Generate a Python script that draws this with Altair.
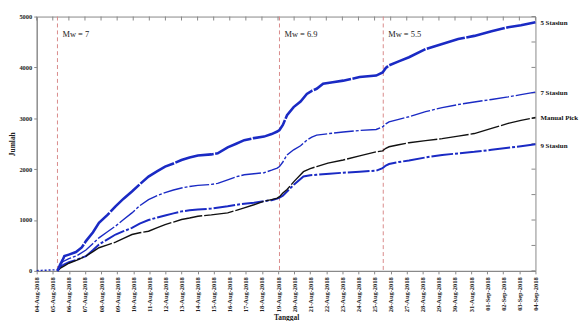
import altair as alt
import pandas as pd

# ---- data (days since 04-Aug-2018 00:00) ----
tick_labels = ["04-Aug-2018", "05-Aug-2018", "06-Aug-2018", "07-Aug-2018", "08-Aug-2018",
               "09-Aug-2018", "10-Aug-2018", "11-Aug-2018", "12-Aug-2018", "13-Aug-2018",
               "14-Aug-2018", "15-Aug-2018", "16-Aug-2018", "17-Aug-2018", "18-Aug-2018",
               "19-Aug-2018", "20-Aug-2018", "21-Aug-2018", "22-Aug-2018", "23-Aug-2018",
               "24-Aug-2018", "25-Aug-2018", "26-Aug-2018", "27-Aug-2018", "28-Aug-2018",
               "29-Aug-2018", "30-Aug-2018", "31-Aug-2018", "01-Sep-2018", "02-Sep-2018",
               "03-Sep-2018", "04-Sep-2018"]
y_ticks = [0, 500, 1000, 1500, 2000, 2500, 3000, 3500, 4000, 4500, 5000]

pre_day = [0.0, 0.3, 0.6, 0.9, 1.1, 1.25]
pre_val = [5, 10, 14, 18, 22, 28]

s5_day = [1.29, 1.45, 1.62, 1.72, 2.0, 2.44, 2.8, 3.06, 3.5, 3.87, 4.4, 4.9, 5.4, 5.92, 6.4, 6.95,
          7.5, 7.98, 8.5, 9.0, 9.5, 10.02, 10.85, 11.25, 11.87, 12.4, 12.9, 13.5, 14.13, 14.6,
          14.95, 15.09, 15.3, 15.56, 15.97, 16.4, 16.79, 17.1, 17.4, 17.8, 18.4, 19.05, 20.07,
          21.1, 21.5, 21.7, 21.9, 22.5, 23.14, 24.17, 25.2, 26.2, 27.2, 28.27, 29.3, 30.1, 31.0]
s5_val = [0, 120, 220, 290, 320, 370, 460, 585, 760, 944, 1100, 1270, 1420, 1560, 1700, 1855,
          1960, 2050, 2110, 2180, 2230, 2270, 2290, 2310, 2430, 2500, 2570, 2610, 2640, 2690,
          2740, 2770, 2870, 3060, 3220, 3330, 3480, 3540, 3580, 3680, 3710, 3740, 3810,
          3840, 3900, 3990, 4040, 4120, 4200, 4360, 4460, 4560, 4620, 4710, 4790, 4830, 4890]

s7_day = [1.29, 1.45, 1.62, 2.0, 2.5, 3.06, 3.5, 3.87, 4.4, 4.9, 5.4, 5.92, 6.4, 6.95, 7.5, 7.98,
          8.5, 9.0, 9.5, 10.02, 10.85, 11.25, 11.87, 12.4, 12.9, 13.5, 14.13, 14.6, 14.95, 15.09,
          15.3, 15.56, 15.97, 16.4, 16.79, 17.1, 17.4, 18.2, 19.05, 20.07, 21.1, 21.5, 21.7,
          21.9, 22.5, 23.14, 24.17, 25.2, 26.2, 27.2, 28.27, 29.3, 30.1, 31.0]
s7_val = [0, 110, 180, 240, 300, 410, 540, 650, 770, 880, 1010, 1140, 1280, 1400, 1480, 1540,
          1590, 1630, 1660, 1680, 1700, 1720, 1790, 1850, 1890, 1910, 1930, 1980, 2020, 2050,
          2140, 2280, 2380, 2460, 2570, 2630, 2670, 2700, 2730, 2760, 2780, 2830, 2890,
          2930, 2980, 3030, 3130, 3210, 3270, 3320, 3370, 3420, 3465, 3515]

mp_day = [1.29, 1.5, 1.72, 2.0, 2.5, 3.06, 3.5, 3.87, 4.4, 4.9, 5.4, 5.92, 6.4, 6.95, 7.5, 7.98,
          8.5, 9.0, 9.5, 10.02, 10.85, 11.87, 12.4, 12.9, 13.5, 14.13, 14.6, 14.95, 15.09, 15.3,
          15.56, 16.0, 16.58, 17.0, 17.4, 18.1, 19.05, 20.07, 21.1, 21.5, 21.7, 21.9, 22.5,
          23.14, 24.17, 25.2, 26.2, 27.2, 28.27, 29.3, 30.1, 31.0]
mp_val = [0, 60, 100, 150, 210, 290, 380, 455, 510, 565, 640, 715, 750, 780, 850, 910,
          960, 1010, 1040, 1075, 1100, 1140, 1190, 1240, 1300, 1370, 1400, 1430, 1460, 1530,
          1600, 1760, 1950, 2010, 2050, 2120, 2180, 2260, 2340, 2360, 2410, 2440, 2480,
          2520, 2560, 2600, 2650, 2700, 2800, 2900, 2960, 3015]

s9_day = [1.29, 1.45, 1.72, 2.0, 2.5, 3.06, 3.5, 3.87, 4.4, 4.9, 5.4, 5.92, 6.4, 6.95, 7.5, 7.98,
          8.5, 9.0, 9.5, 10.02, 10.85, 11.87, 12.4, 12.9, 13.5, 14.13, 14.6, 14.95, 15.09, 15.3,
          15.56, 16.0, 16.58, 17.0, 17.4, 18.2, 19.05, 20.07, 21.1, 21.5, 21.7, 21.9, 22.5,
          23.14, 24.17, 25.2, 26.2, 27.2, 28.27, 29.3, 30.1, 31.0]
s9_val = [0, 80, 130, 170, 220, 290, 410, 520, 620, 715, 780, 845, 930, 1000, 1050, 1090,
          1130, 1170, 1190, 1205, 1225, 1270, 1300, 1320, 1340, 1370, 1390, 1420, 1440, 1480,
          1560, 1700, 1855, 1880, 1890, 1910, 1930, 1950, 1970, 2020, 2070, 2100, 2140,
          2170, 2230, 2280, 2310, 2340, 2380, 2420, 2450, 2490]

quake_day = [1.29, 15.09, 21.54]
quake_label = ["Mw =  7", "Mw = 6.9", "Mw = 5.5"]

end_labels = ["5 Stasiun", "7 Stasiun", "Manual Pick", "9 Stasiun"]
end_label_y = [4880, 3500, 3000, 2460]

FONT = "Liberation Serif"
BLUE = "#1a2ac4"

x_scale = alt.Scale(domain=[0, 31], nice=False, zero=False)
y_scale = alt.Scale(domain=[0, 5000], nice=False)

label_expr = "[" + ",".join("'" + t + "'" for t in tick_labels) + "][datum.value]"

x_enc = alt.X("day:Q", scale=x_scale,
              axis=alt.Axis(values=list(range(len(tick_labels))), labelExpr=label_expr,
                            labelAngle=270, labelAlign="right", labelBaseline="middle",
                            labelFont=FONT, labelFontSize=6.5, labelFontWeight="bold",
                            labelColor="#222", labelPadding=3, labelOverlap=False,
                            labelBound=False, labelFlush=False,
                            title="Tanggal", titleFont=FONT, titleFontSize=7.5,
                            titleFontWeight="bold", titleColor="#222", titlePadding=2,
                            grid=False, domainColor="#888", tickColor="#888", tickSize=3))
y_enc = alt.Y("val:Q", scale=y_scale,
              axis=alt.Axis(values=y_ticks, format="d", labelFont=FONT, labelFontSize=6.5,
                            labelFontWeight="bold", labelColor="#222", labelPadding=2,
                            labelFlush=False,
                            title="Jumlah", titleFont=FONT, titleFontSize=7.5,
                            titleFontWeight="bold", titleColor="#222", titlePadding=2,
                            grid=False, domainColor="#888", tickColor="#888", tickSize=3))


def line(days, vals, color, width, dash):
    df = pd.DataFrame({"day": days, "val": vals})
    return alt.Chart(df).mark_line(color=color, strokeWidth=width, strokeDash=dash).encode(
        x=x_enc, y=y_enc)


pre = line(pre_day, pre_val, BLUE, 1.5, [2, 2])
l9 = line(s9_day, s9_val, BLUE, 2.0, [22, 2, 3, 2])
lmp = line(mp_day, mp_val, "#111111", 1.4, [30, 2])
l7 = line(s7_day, s7_val, BLUE, 1.4, [20, 2, 3, 2])
l5 = line(s5_day, s5_val, BLUE, 2.6, [40, 1.5])

qdf = pd.DataFrame({"day": quake_day, "label": quake_label})
qrule = alt.Chart(qdf).mark_rule(color="#d98a8a", strokeWidth=1, strokeDash=[4, 3]).encode(
    x=x_enc)
qtext = alt.Chart(qdf).mark_text(font=FONT, fontSize=8.5, align="left", baseline="middle",
                                 dx=5, color="#222").encode(
    x=x_enc, y=alt.datum(4650, scale=y_scale), text="label:N")

edf = pd.DataFrame({"label": end_labels, "val": end_label_y, "day": [31] * 4})
etext = alt.Chart(edf).mark_text(font=FONT, fontSize=7, fontWeight="bold", align="left",
                                 baseline="middle", dx=5, color="#111").encode(
    x=x_enc, y=y_enc, text="label:N")

tdf = pd.DataFrame({"day": list(range(len(tick_labels)))})
top_ticks = alt.Chart(tdf).mark_rule(color="#888").encode(
    x=x_enc, y=alt.value(0), y2=alt.value(4))
ydf = pd.DataFrame({"val": y_ticks})
right_ticks = alt.Chart(ydf).mark_rule(color="#888").encode(
    y=y_enc, x=alt.value(504), x2=alt.value(500))

chart = alt.layer(top_ticks, right_ticks, qrule, pre, l9, lmp, l7, l5, qtext, etext).properties(
    width=504, height=257,
    autosize="none",
    padding={"left": 29, "top": 7, "right": 44, "bottom": 49},
).configure_view(stroke="#888", strokeWidth=1)

chart.save("out.html", embed_options={"renderer": "svg", "actions": False})
